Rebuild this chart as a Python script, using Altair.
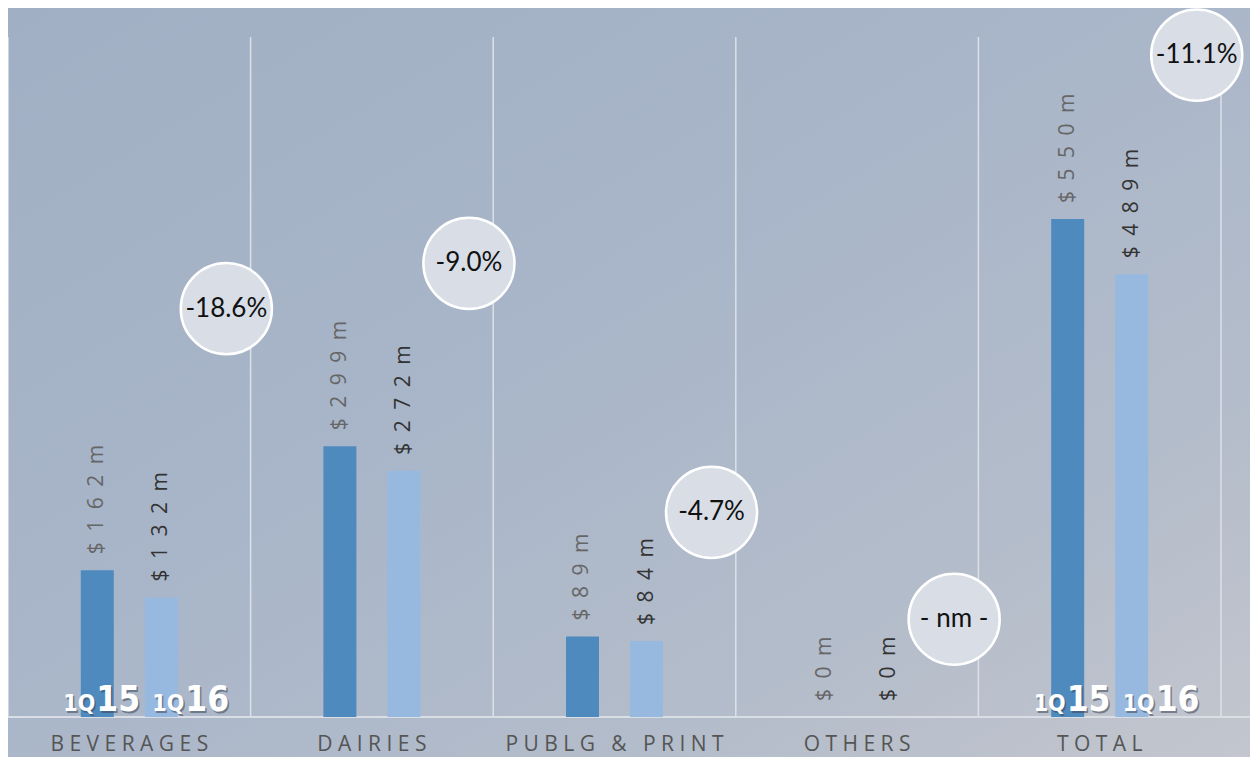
import altair as alt
import pandas as pd

# ---------------- data ----------------
categories = ["BEVERAGES", "DAIRIES", "PUBLG & PRINT", "OTHERS", "TOTAL"]
series = ["1Q15", "1Q16"]
sales_1q15 = [162, 299, 89, 0, 550]          # $ m
sales_1q16 = [132, 272, 84, 0, 489]          # $ m
change_labels = ["-18.6%", "-9.0%", "-4.7%", "- nm -", "-11.1%"]
badge_level = [451, 501, 226, 108, 731]      # badge height, in $ m units
quarter_label_categories = ["BEVERAGES", "TOTAL"]
y_max = 751

NB = "\u00a0"   # non-breaking space (not collapsed by SVG)
EN = "\u2002"   # en space


def spaced_caps(s):
    # letter-spaced capitals; word gaps slightly widened
    return " ".join(NB if ch == " " else ch for ch in s)


def spaced_value(s):
    return EN.join(list(s))


cat_labels = [spaced_caps(c) for c in categories]

rows = []
for i, c in enumerate(categories):
    for s, vals in zip(series, [sales_1q15, sales_1q16]):
        v = vals[i]
        rows.append(dict(category=c, cat=spaced_caps(c), series=s, value=v,
                         label=spaced_value(f"${v}m")))
bars_df = pd.DataFrame(rows)

badges_df = pd.DataFrame(dict(category=categories, cat=cat_labels,
                              change=change_labels, level=badge_level))
cats_df = pd.DataFrame(dict(category=categories, cat=cat_labels, zero=[0] * 5, top=[y_max] * 5))
one_df = pd.DataFrame(dict(zero=[0]))

# ---------------- layout ----------------
W, H = 1213, 680
PAD = dict(left=0, top=29, right=29, bottom=40)

x_scale = alt.Scale(domain=cat_labels, paddingInner=0, paddingOuter=0)
x_axis = alt.Axis(title=None, ticks=False, domain=False, grid=False,
                  labelFont="Open Sans", labelFontSize=21, labelColor="#555555",
                  labelPadding=16, labelAngle=0, labelLimit=400, zindex=1)
y_scale = alt.Scale(domain=[0, y_max], nice=False, zero=True)
off_scale = alt.Scale(domain=series, paddingInner=0.21, paddingOuter=1)


def X(band=None):
    if band is None:
        return alt.X("cat:N", scale=x_scale, axis=x_axis)
    return alt.X("cat:N", scale=x_scale, axis=x_axis, bandPosition=band)


def Y(field="value"):
    return alt.Y(f"{field}:Q", scale=y_scale, axis=None)


XO = alt.XOffset("series:N", scale=off_scale)

# background gradient
bg = alt.Chart(one_df).mark_rect(
    color=alt.LinearGradient(
        gradient="linear",
        stops=[alt.GradientStop(color="#a1afc4", offset=0),
               alt.GradientStop(color="#a9b6c9", offset=0.45),
               alt.GradientStop(color="#b3bcca", offset=0.75),
               alt.GradientStop(color="#c3c6ce", offset=1)],
        x1=0, y1=0, x2=1, y2=1)
).encode(x=alt.value(0), x2=alt.value(W + PAD["right"]),
         y=alt.value(-PAD["top"]), y2=alt.value(H + PAD["bottom"]))

sep = alt.Chart(cats_df).mark_rule(color="#dde1e7", strokeWidth=1.5).encode(
    x=X(0), y=Y("top"), y2="zero:Q")
edge = alt.Chart(cats_df).transform_filter(
    alt.datum.category == "TOTAL").mark_rule(color="#dde1e7", strokeWidth=1.5).encode(
    x=X(1), y=Y("top"), y2="zero:Q")
baseline = alt.Chart(one_df).mark_rule(color="#d9dde4", strokeWidth=2).encode(
    x=alt.value(0), x2=alt.value(W + PAD["right"]), y=Y("zero"))

bars = alt.Chart(bars_df).mark_bar(size=33).encode(
    x=X(), xOffset=XO, y=Y(),
    color=alt.Color("series:N", scale=alt.Scale(domain=series, range=["#4f8abf", "#97b9e0"]),
                    legend=None))

vlabels = alt.Chart(bars_df).mark_text(
    angle=270, align="left", baseline="middle", dx=16,
    font="Open Sans", fontSize=21).encode(
    x=X(), xOffset=XO, y=Y(), text="label:N",
    color=alt.condition(alt.datum.series == "1Q15", alt.value("#666666"), alt.value("#333333")))

qfont = "Liberation Sans Narrow, DejaVu Sans Condensed, sans-serif"
qlayers = []
for s, d in zip(series, [-2, 23]):
    base_q = alt.Chart(bars_df).transform_filter(
        alt.FieldOneOfPredicate(field="category", oneOf=quarter_label_categories)
    ).transform_filter(alt.datum.series == s).transform_calculate(
        small="substring(datum.series, 0, 2)", big="substring(datum.series, 2)", zero="0")
    for shadow in (True, False):
        col = "#3d4656" if shadow else "#ffffff"
        op = 0.55 if shadow else 1.0
        sh = 1.5 if shadow else 0
        qlayers.append(base_q.mark_text(
            align="right", baseline="alphabetic", dx=d + sh, dy=-6 + sh,
            font=qfont, fontWeight="bold", fontSize=23, color=col, opacity=op).encode(
            x=X(), xOffset=XO, y=Y("zero"), text="small:N"))
        qlayers.append(base_q.mark_text(
            align="left", baseline="alphabetic", dx=d + 1 + sh, dy=-6 + sh,
            font=qfont, fontWeight="bold", fontSize=35, color=col, opacity=op).encode(
            x=X(), xOffset=XO, y=Y("zero"), text="big:N"))

circles = alt.Chart(badges_df).mark_point(
    shape="circle", filled=True, size=8300, fill="#d8dde6", opacity=1,
    stroke="#ffffff", strokeWidth=2.5).encode(x=X(0.9), y=Y("level"))
ctext = alt.Chart(badges_df).mark_text(
    font="Lato", fontSize=26, color="#111111", baseline="middle", align="center").encode(
    x=X(0.9), y=Y("level"), text="change:N")

chart = alt.layer(bg, sep, edge, baseline, bars, vlabels, *qlayers, circles, ctext).properties(
    width=W, height=H, padding=PAD,
    autosize=alt.AutoSizeParams(type="none")
).configure(background="#aab5c7").configure_view(stroke=None)

chart.save("out.html", embed_options={"renderer": "svg", "actions": False})
